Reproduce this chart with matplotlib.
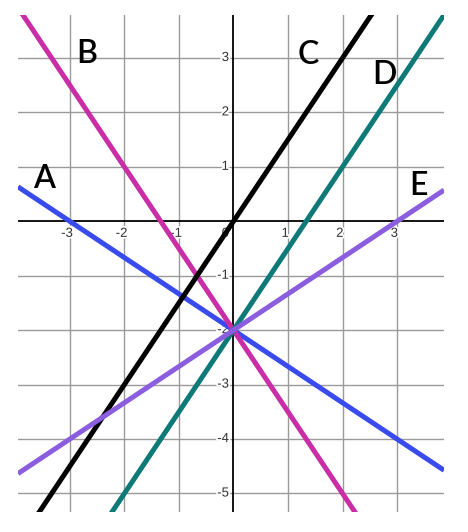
import matplotlib
matplotlib.use("Agg")
import matplotlib.pyplot as plt
import numpy as np
import matplotlib.patheffects as pe

# Lines y = m*x + b
labels = ["A", "B", "C", "D", "E"]
slopes = [-2/3, -1.5, 1.5, 1.5, 2/3]
intercepts = [-2, -2, 0, -2, -2]
colors = ["#3a4bee", "#c92ea6", "#000000", "#0d7a78", "#8b5ddf"]
label_pos = [(-3.48, 0.77), (-2.69, 3.07), (1.38, 3.06), (2.77, 2.68), (3.39, 0.64)]

xticks = [-3, -2, -1, 1, 2, 3]
yticks = [-5, -4, -3, -2, -1, 1, 2, 3]

xlim = (-3.95, 3.86)
ylim = (-5.34, 3.79)

fig = plt.figure(figsize=(4.68, 5.32), dpi=100)
ax = fig.add_axes([0.0385, 0.0376, 0.9102, 0.9342])
ax.set_xlim(*xlim)
ax.set_ylim(*ylim)
for s in ax.spines.values():
    s.set_visible(False)
ax.set_xticks([])
ax.set_yticks([])

# grid
for gx in range(-3, 4):
    if gx != 0:
        ax.axvline(gx, color="#9a9a9a", lw=1.0, zorder=1)
for gy in range(-5, 4):
    if gy != 0:
        ax.axhline(gy, color="#9a9a9a", lw=1.0, zorder=1)
ax.axhline(0, color="#000000", lw=1.3, zorder=2)
ax.axvline(0, color="#000000", lw=1.3, zorder=2)

xs = np.array(xlim)
for m, b, c in zip(slopes, intercepts, colors):
    ax.plot(xs, m * xs + b, color=c, lw=3.6, zorder=3, solid_capstyle="butt")

halo = [pe.withStroke(linewidth=2.5, foreground="white")]
tfont = dict(fontsize=9.5, family="Liberation Sans", color="#333333",
             path_effects=halo, zorder=2.5)
for t in xticks:
    ax.text(t - 0.05, -0.12, str(t), ha="center", va="top", **tfont)
for t in yticks:
    ax.text(-0.08, t, str(t), ha="right", va="center", **tfont)
ax.text(-0.08, -0.12, "0", ha="right", va="top", **tfont)

for lab, (lx, ly) in zip(labels, label_pos):
    ax.text(lx, ly, lab, ha="center", va="center", fontsize=23,
            family="Lato", weight="semibold", color="black", zorder=4)

fig.savefig("out.png", dpi=100)
